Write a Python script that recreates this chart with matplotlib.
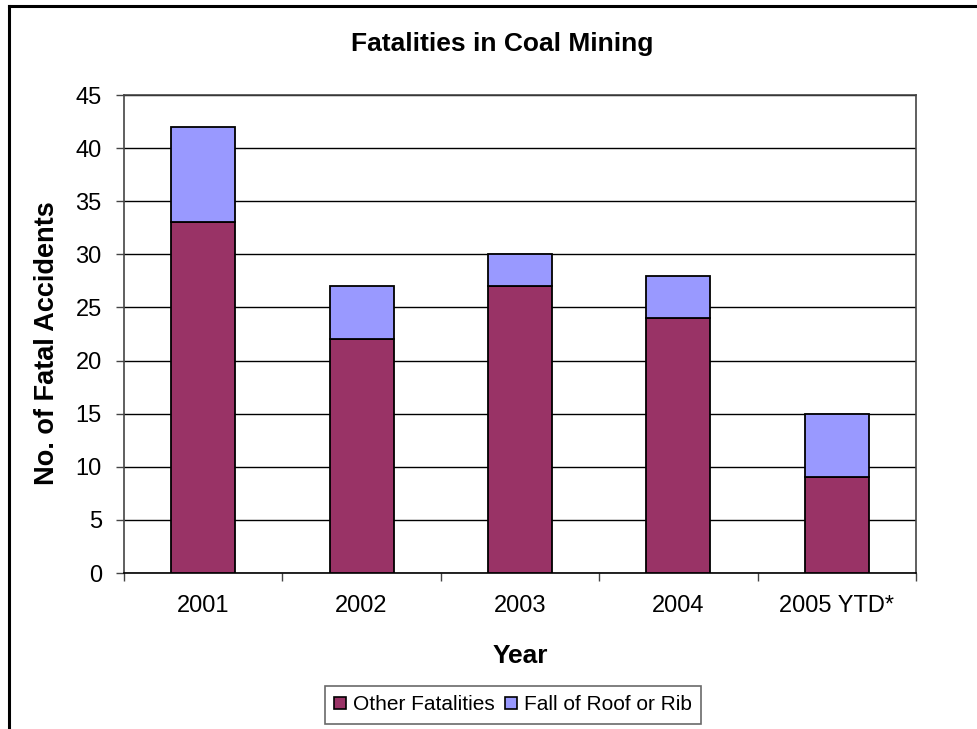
import matplotlib
matplotlib.use("Agg")
import matplotlib.pyplot as plt
from matplotlib.lines import Line2D
from matplotlib.patches import Patch
import numpy as np

plt.rcParams['font.family'] = ['Liberation Sans', 'DejaVu Sans']

years = ["2001", "2002", "2003", "2004", "2005 YTD*"]
other_fatalities = [33, 22, 27, 24, 9]
fall_of_roof = [9, 5, 3, 4, 6]

color_other = "#993366"
color_roof = "#9999FF"

W, H = 977, 729
fig = plt.figure(figsize=(W / 100, H / 100), dpi=100)
ax_left, ax_right, ax_top, ax_bottom = 124, 916, 95, 573
ax = fig.add_axes([ax_left / W, 1 - ax_bottom / H,
                   (ax_right - ax_left) / W, (ax_bottom - ax_top) / H])

x = np.arange(len(years))
width = 0.405
ax.bar(x, other_fatalities, width, color=color_other, edgecolor="black",
       linewidth=1.3, zorder=3, label="Other Fatalities")
ax.bar(x, fall_of_roof, width, bottom=other_fatalities, color=color_roof,
       edgecolor="black", linewidth=1.3, zorder=3, label="Fall of Roof or Rib")

ax.set_xlim(-0.5, len(years) - 0.5)
ax.set_ylim(0, 45)
ax.set_yticks(np.arange(0, 46, 5))
ax.yaxis.grid(True, color="black", linewidth=1.0, zorder=0)
ax.set_axisbelow(True)

ax.set_xticks(x)
ax.set_xticklabels(years, fontsize=17)
ax.tick_params(axis="x", which="major", length=0, pad=16)
ax.set_xticks(np.arange(-0.5, len(years), 1), minor=True)
ax.tick_params(axis="x", which="minor", length=6, width=1, color="#444444", direction="out")
ax.tick_params(axis="y", labelsize=17, length=6, width=1, color="#444444",
               direction="out", pad=10)

for side in ["left", "right", "top", "bottom"]:
    ax.spines[side].set_color("#444444")
    ax.spines[side].set_linewidth(1.2)
ax.spines["bottom"].set_color("black")

ax.set_xlabel("Year", fontsize=19, fontweight="bold")
ax.xaxis.set_label_coords(0.5, -(656 - ax_bottom) / (ax_bottom - ax_top))
ax.xaxis.label.set_va("center")
ax.set_ylabel("No. of Fatal Accidents", fontsize=19.5, fontweight="bold")
ax.yaxis.set_label_coords(-(ax_left - 47) / (ax_right - ax_left),
                          (ax_bottom - 343) / (ax_bottom - ax_top))
ax.yaxis.label.set_va("center")

fig.text(502 / W, 1 - 44 / H, "Fatalities in Coal Mining", ha="center",
         va="center", fontsize=19, fontweight="bold")

handles = [Patch(facecolor=color_other, edgecolor="black", linewidth=1.2),
           Patch(facecolor=color_roof, edgecolor="black", linewidth=1.2)]
leg = fig.legend(handles, ["Other Fatalities", "Fall of Roof or Rib"],
                 loc="center", bbox_to_anchor=(513 / W, 1 - 705 / H),
                 ncol=2, fontsize=15, frameon=True, fancybox=False,
                 handlelength=0.55, handleheight=0.55, handletextpad=0.35,
                 columnspacing=0.5, borderpad=0.45, borderaxespad=0,
                 edgecolor="#444444")
leg.get_frame().set_linewidth(1.2)

# outer chart frame (left and top edges)
fig.add_artist(Line2D([8.5 / W, 8.5 / W], [0, 1 - 6 / H], transform=fig.transFigure,
                      color="black", linewidth=2.2))
fig.add_artist(Line2D([8.5 / W, 1], [1 - 6 / H, 1 - 6 / H], transform=fig.transFigure,
                      color="black", linewidth=2.2))

fig.savefig("out.png", dpi=100)
